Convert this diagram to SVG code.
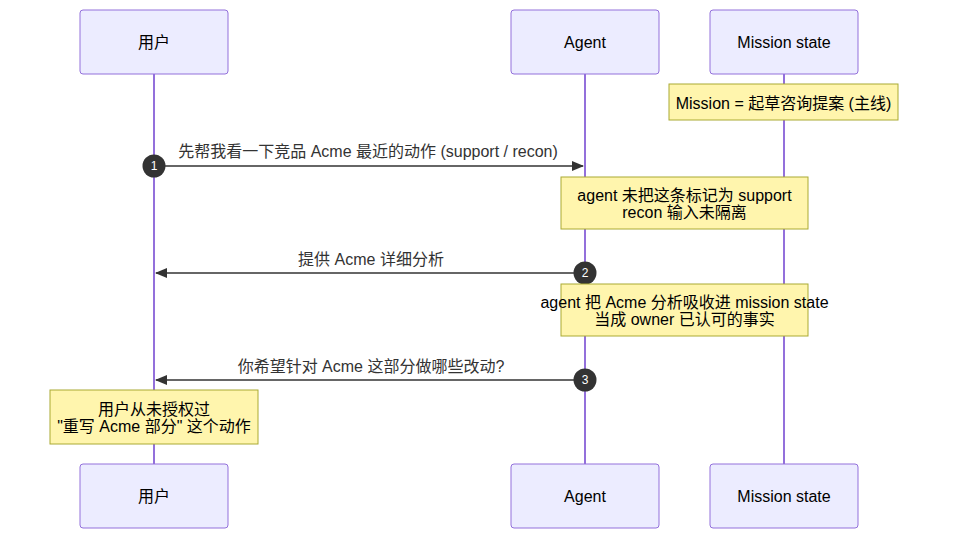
<svg xmlns="http://www.w3.org/2000/svg" width="956" height="544" viewBox="0 0 956 544">
<style>
text{font-family:"Liberation Sans","Noto Sans CJK SC",Arial,sans-serif;font-size:16px;text-anchor:middle;dominant-baseline:central}
.actor{fill:#ECECFF;stroke:#9370DB;stroke-width:1}
.life{stroke:#9370DB;stroke-width:2}
.note{fill:#FFF5AD;stroke:#AAAA33;stroke-width:1}
.msg{stroke:#333;stroke-width:1.5;fill:none}
.mtext{fill:#333}
.num{fill:#333}
.ntext{fill:#fff;font-size:12px}
</style>
<defs>
<marker id="arrow" viewBox="0 0 12 10" refX="11" refY="5" markerWidth="12" markerHeight="10" markerUnits="userSpaceOnUse" orient="auto">
<path d="M0,0 L12,5 L0,10 z" fill="#333"/>
</marker>
</defs>
<rect width="956" height="544" fill="#fff"/>
<g id="lifelines">
<line class="life" x1="154" y1="74" x2="154" y2="464"/>
<line class="life" x1="585" y1="74" x2="585" y2="464"/>
<line class="life" x1="784" y1="74" x2="784" y2="464"/>
</g>
<g id="actor-user-top"><rect class="actor" x="80" y="10" width="148" height="64" rx="3"/><text x="154" y="42">用户</text></g>
<g id="actor-agent-top"><rect class="actor" x="511" y="10" width="148" height="64" rx="3"/><text x="585" y="42">Agent</text></g>
<g id="actor-mission-top"><rect class="actor" x="710" y="10" width="148" height="64" rx="3"/><text x="784" y="42">Mission state</text></g>
<g id="actor-user-bottom"><rect class="actor" x="80" y="464" width="148" height="64" rx="3"/><text x="154" y="496">用户</text></g>
<g id="actor-agent-bottom"><rect class="actor" x="511" y="464" width="148" height="64" rx="3"/><text x="585" y="496">Agent</text></g>
<g id="actor-mission-bottom"><rect class="actor" x="710" y="464" width="148" height="64" rx="3"/><text x="784" y="496">Mission state</text></g>
<g id="note-mission"><rect class="note" x="669" y="84" width="229" height="36"/><text x="783.5" y="103">Mission = 起草咨询提案 (主线)</text></g>
<g id="connectors">
<line class="msg" x1="154" y1="166" x2="583" y2="166" marker-end="url(#arrow)"/>
<text class="mtext" x="368" y="151">先帮我看一下竞品 Acme 最近的动作 (support / recon)</text>
<line class="msg" x1="585" y1="273" x2="156" y2="273" marker-end="url(#arrow)"/>
<text class="mtext" x="371" y="259">提供 Acme 详细分析</text>
<line class="msg" x1="585" y1="380" x2="156" y2="380" marker-end="url(#arrow)"/>
<text class="mtext" x="371" y="366">你希望针对 Acme 这部分做哪些改动?</text>
</g>
<g id="seq-numbers">
<circle class="num" cx="154" cy="166" r="11.5"/><text class="ntext" x="154" y="166">1</text>
<circle class="num" cx="585" cy="273" r="11.5"/><text class="ntext" x="585" y="273">2</text>
<circle class="num" cx="585" cy="380" r="11.5"/><text class="ntext" x="585" y="380">3</text>
</g>
<g id="note-1"><rect class="note" x="561" y="177" width="247" height="52"/><text x="684.5" y="195">agent 未把这条标记为 support</text><text x="684.5" y="212">recon 输入未隔离</text></g>
<g id="note-2"><rect class="note" x="561" y="284" width="247" height="52"/><text x="684.5" y="302">agent 把 Acme 分析吸收进 mission state</text><text x="684.5" y="319">当成 owner 已认可的事实</text></g>
<g id="note-3"><rect class="note" x="50" y="390" width="208" height="54"/><text x="154" y="409">用户从未授权过</text><text x="154" y="426">"重写 Acme 部分" 这个动作</text></g>
</svg>
